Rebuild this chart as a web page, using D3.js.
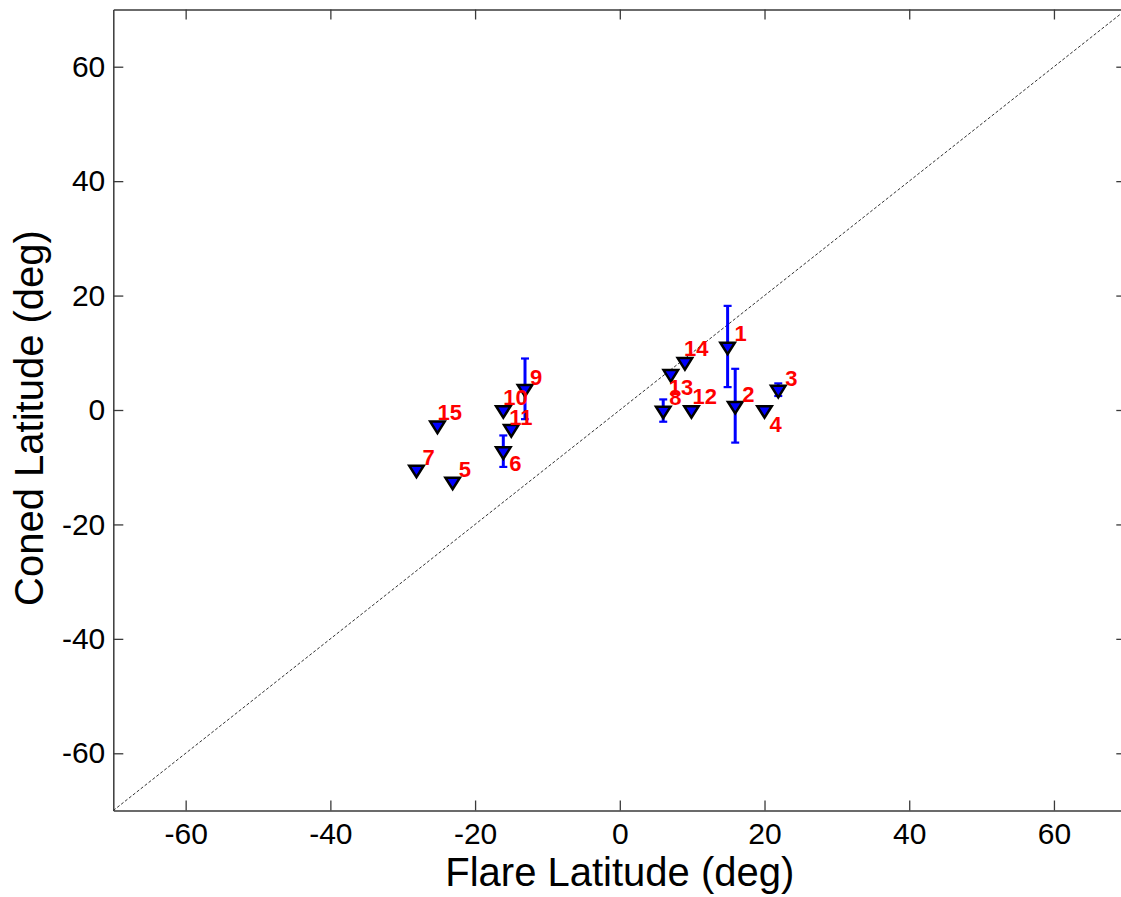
<!DOCTYPE html>
<html>
<head>
<meta charset="utf-8">
<script src="https://cdn.jsdelivr.net/npm/d3@7/dist/d3.min.js"></script>
<style>
  html, body { margin: 0; padding: 0; background: #fff; }
  svg { display: block; }
  text { font-family: "Liberation Sans", Arial, sans-serif; }
</style>
</head>
<body>
<svg id="chart" width="1121" height="897"></svg>
<script>
// ---- data ----
const eventIds   = ["1","2","3","4","5","6","7","8","9","10","11","12","13","14","15"];
const flareLat   = [14.9, 15.95, 21.9, 20.0, -23.1, -16.1, -28.1, 6.0, -13.1, -16.1, -15.0, 9.9, 7.05, 9.0, -25.2];
const conedLat   = [11.1, 0.75, 3.55, 0.0, -12.5, -7.2, -10.4, -0.1, 3.7, 0.0, -3.3, 0.0, 6.3, 8.4, -2.7];
const conedErr   = [7.1, 6.45, 1.1, 0, 0, 2.75, 0, 1.95, 5.3, 0, 0, 0, 0, 0, 0];
const tickValues = [-60, -40, -20, 0, 20, 40, 60];
const tickLabels = ["-60", "-40", "-20", "0", "20", "40", "60"];
const axisRange  = [-70, 70];
// label placement relative to the marker (pixels)
const labelDx = [7, 7, 7, 5, 6, 6, 6, 6, 5, 0, -2, 1, -2, -1, 0];
const labelDy = [-5, -4, -4, 22, -5, 20, -5, -6, -4, -5, -4, -6, 21, -6, -5];

// ---- layout ----
const svg = d3.select("#chart");
const L = 113.3, R = 1126.3, T = 9.5, B = 810.5;
const x = d3.scaleLinear().domain(axisRange).range([L, R]);
const y = d3.scaleLinear().domain(axisRange).range([B, T]);

const axisColor = "#3a3a3a";
const tickFont = 30;
const fmt = v => tickLabels[tickValues.indexOf(v)];

function styleAxis(g, showLabels) {
  g.attr("font-family", null).attr("font-size", null);
  g.select(".domain").attr("stroke", axisColor).attr("stroke-width", 1.5);
  g.selectAll(".tick line").attr("stroke", axisColor).attr("stroke-width", 1.3);
  g.selectAll(".tick text")
    .attr("fill", "#000")
    .style("font-size", tickFont + "px")
    .style("display", showLabels ? null : "none");
}

svg.append("g").attr("transform", `translate(0,${B})`)
  .call(d3.axisBottom(x).tickValues(tickValues).tickFormat(fmt).tickSizeInner(-10).tickSizeOuter(0).tickPadding(12))
  .call(g => styleAxis(g, true));
svg.append("g").attr("transform", `translate(0,${T})`)
  .call(d3.axisTop(x).tickValues(tickValues).tickFormat(fmt).tickSizeInner(-10).tickSizeOuter(0))
  .call(g => styleAxis(g, false));
svg.append("g").attr("transform", `translate(${L},0)`)
  .call(d3.axisLeft(y).tickValues(tickValues).tickFormat(fmt).tickSizeInner(-10).tickSizeOuter(0).tickPadding(8))
  .call(g => styleAxis(g, true));
svg.append("g").attr("transform", `translate(${R},0)`)
  .call(d3.axisRight(y).tickValues(tickValues).tickFormat(fmt).tickSizeInner(-10).tickSizeOuter(0))
  .call(g => styleAxis(g, false));

// diagonal y = x
svg.append("line")
  .attr("x1", x(axisRange[0])).attr("y1", y(axisRange[0]))
  .attr("x2", x(axisRange[1])).attr("y2", y(axisRange[1]))
  .attr("stroke", "#333").attr("stroke-width", 1).attr("stroke-dasharray", "3,2");

const pts = eventIds.map((id, i) => ({id, fx: flareLat[i], cy: conedLat[i], e: conedErr[i], dx: labelDx[i], dy: labelDy[i]}));

// error bars
const eb = svg.append("g").attr("stroke", "#0000ff").attr("fill", "none");
pts.filter(d => d.e > 0).forEach(d => {
  const cx = x(d.fx), y1 = y(d.cy + d.e), y2 = y(d.cy - d.e);
  eb.append("line").attr("x1", cx).attr("x2", cx).attr("y1", y1).attr("y2", y2).attr("stroke-width", 3);
  eb.append("line").attr("x1", cx - 4).attr("x2", cx + 4).attr("y1", y1).attr("y2", y1).attr("stroke-width", 2.2);
  eb.append("line").attr("x1", cx - 4).attr("x2", cx + 4).attr("y1", y2).attr("y2", y2).attr("stroke-width", 2.2);
});

// triangle markers (downward, centroid at data point)
const w = 14.5, h = 11.5;
const tri = `M${-w/2},${-h/3}L${w/2},${-h/3}L0,${2*h/3}Z`;
svg.append("g").selectAll("path").data(pts).join("path")
  .attr("d", tri)
  .attr("transform", d => `translate(${x(d.fx)},${y(d.cy)})`)
  .attr("fill", "#0000ff")
  .attr("stroke", "#000")
  .attr("stroke-width", 2.5)
  .attr("stroke-linejoin", "miter")
  .attr("stroke-miterlimit", 3);

// labels
svg.append("g").selectAll("text").data(pts).join("text")
  .attr("x", d => x(d.fx) + d.dx)
  .attr("y", d => y(d.cy) + d.dy)
  .attr("fill", "#ff0000")
  .style("font-size", "22px")
  .style("font-weight", "bold")
  .text(d => d.id);

// axis titles
svg.append("text")
  .attr("x", x(0)).attr("y", 886)
  .attr("text-anchor", "middle")
  .style("font-size", "40px")
  .text("Flare Latitude (deg)");
svg.append("text")
  .attr("transform", `translate(43,418) rotate(-90)`)
  .attr("text-anchor", "middle")
  .style("font-size", "40px")
  .text("Coned Latitude (deg)");
</script>
</body>
</html>
